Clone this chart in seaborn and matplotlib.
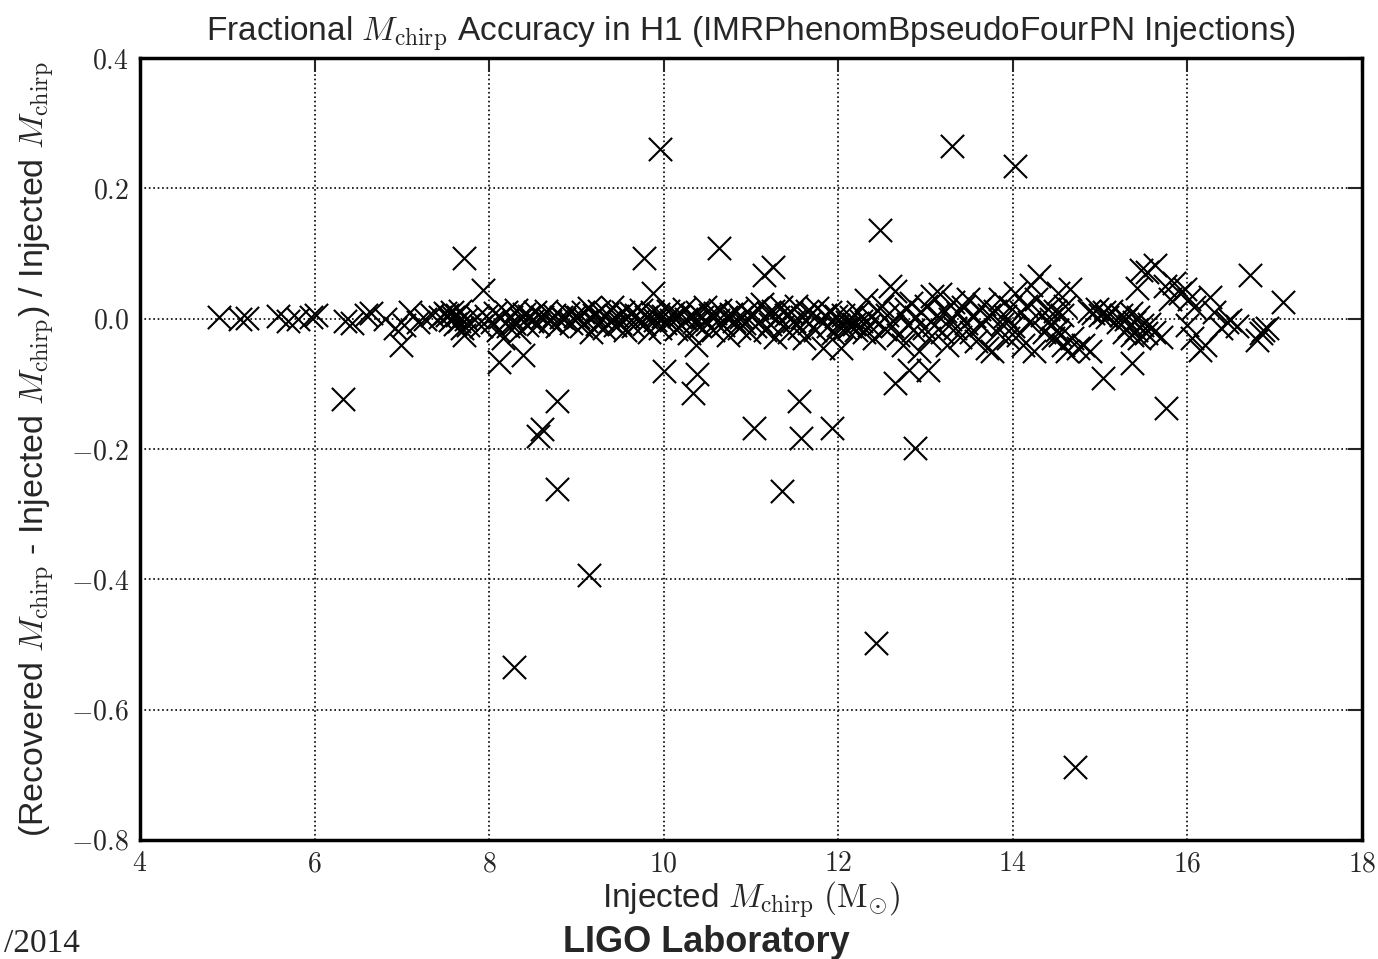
import numpy as np
import pandas as pd
import matplotlib
matplotlib.use("Agg")
import matplotlib.pyplot as plt
import seaborn as sns

# --- Data (injected Mchirp, fractional error) ---
# sparse low-mass end
inj_low = [4.91, 5.15, 5.23, 5.58, 5.70, 5.81, 5.96, 6.02, 6.35, 6.43, 6.59, 6.65,
           6.81, 6.92, 6.99, 7.02, 7.09, 7.18, 7.26, 7.35, 7.44, 7.49,
           7.52, 7.55, 7.57, 7.59, 7.61, 7.63, 7.65, 7.67, 7.69, 7.71, 7.73, 7.76,
           7.86, 7.91, 7.96]
err_low = [0.003, 0.0, 0.001, 0.004, -0.004, 0.0, 0.003, 0.005, -0.003, -0.006, 0.006, 0.008,
           0.0, -0.015, -0.04, -0.01, 0.01, -0.005, 0.0, 0.005, 0.003, 0.008,
           0.006, -0.002, 0.01, 0.003, -0.008, 0.005, -0.004, 0.012, -0.015, -0.025, 0.0, -0.01,
           0.002, -0.012, 0.004]

# dense band 8 - 12
inj_mid = [8.03, 8.07, 8.10, 8.13, 8.16, 8.19, 8.22, 8.25, 8.28, 8.31, 8.34, 8.37, 8.40, 8.43,
           8.46, 8.49, 8.52, 8.56, 8.60, 8.65, 8.70, 8.74, 8.78, 8.82, 8.86, 8.90, 8.94, 8.98,
           9.02, 9.05, 9.08, 9.11, 9.14, 9.17, 9.20, 9.23, 9.26, 9.29, 9.32, 9.35, 9.38, 9.41,
           9.44, 9.47, 9.50, 9.53, 9.56, 9.59, 9.62, 9.65, 9.68, 9.71, 9.74, 9.77, 9.80, 9.83,
           9.86, 9.88, 9.90, 9.93, 9.96, 9.99,
           10.02, 10.05, 10.08, 10.11, 10.14, 10.17, 10.20, 10.23, 10.26, 10.29, 10.32, 10.35,
           10.37, 10.38, 10.41, 10.44, 10.47, 10.50, 10.53, 10.56, 10.59, 10.62, 10.65, 10.68,
           10.71, 10.74, 10.77, 10.80, 10.83, 10.86, 10.89, 10.92, 10.95, 10.98,
           11.01, 11.04, 11.07, 11.10, 11.13, 11.16, 11.19, 11.22, 11.25, 11.28, 11.31, 11.34,
           11.37, 11.40, 11.43, 11.46, 11.49, 11.52, 11.55, 11.58, 11.61, 11.64, 11.67, 11.70,
           11.73, 11.76, 11.79, 11.82, 11.85, 11.88, 11.91, 11.94, 11.97]
err_mid = [-0.005, 0.008, -0.018, 0.002, -0.03, 0.01, -0.012, 0.003, -0.006, 0.014, -0.02, 0.0, 0.007, -0.01,
           0.004, -0.003, 0.01, -0.008, 0.002, 0.012, -0.004, 0.006, -0.012, 0.003, 0.0, 0.008, -0.006, 0.004,
           0.002, -0.012, 0.01, -0.004, 0.016, -0.02, 0.005, -0.008, 0.012, 0.0, -0.015, 0.007, -0.003, 0.018,
           -0.01, 0.004, -0.006, 0.011, -0.018, 0.002, 0.009, -0.012, 0.006, -0.004, 0.014, -0.008, 0.003, -0.02,
           0.01, 0.04, -0.002, 0.007, -0.014, 0.004,
           -0.006, 0.012, -0.002, 0.008, -0.016, 0.004, -0.01, 0.015, 0.0, -0.022, 0.006, -0.005,
           -0.04, 0.01, -0.012, 0.003, 0.018, -0.008, 0.005, -0.018, 0.009, -0.002, 0.014, -0.01,
           0.002, -0.025, 0.007, -0.004, 0.012, -0.014, 0.003, -0.007, 0.01, -0.02,
           0.004, -0.012, 0.016, -0.004, 0.022, -0.018, 0.008, -0.008, 0.012, -0.028, 0.002, 0.018,
           -0.012, 0.006, -0.02, 0.01, -0.004, 0.02, -0.014, 0.003, -0.03, 0.012, -0.006, 0.008,
           -0.018, 0.016, -0.002, -0.045, 0.006, -0.012, 0.01, -0.022, 0.004]

# wider band 12 - 17
inj_high = [12.00, 12.03, 12.05, 12.08, 12.10, 12.13, 12.15, 12.18, 12.20, 12.23, 12.26, 12.29,
            12.32, 12.35, 12.38, 12.41, 12.44, 12.47, 12.50, 12.53, 12.56, 12.59, 12.62, 12.65,
            12.68, 12.71, 12.74, 12.77, 12.80, 12.83, 12.86, 12.89, 12.92, 12.95, 12.98,
            13.01, 13.04, 13.07, 13.10, 13.13, 13.16, 13.19, 13.22, 13.25, 13.28, 13.31, 13.34,
            13.37, 13.40, 13.43, 13.46, 13.49, 13.52, 13.55, 13.58, 13.61, 13.64, 13.67, 13.70,
            13.73, 13.76, 13.79, 13.82, 13.85, 13.88, 13.91, 13.94, 13.97,
            14.00, 14.03, 14.06, 14.09, 14.12, 14.15, 14.18, 14.21, 14.24, 14.27, 14.30, 14.33,
            14.36, 14.40, 14.42, 14.44, 14.46, 14.48, 14.50, 14.52, 14.54, 14.56, 14.58, 14.60,
            14.62, 14.65, 14.68, 14.75, 14.80, 14.88,
            14.87, 14.92, 14.96, 15.00, 15.04, 15.08, 15.12,
            15.20, 15.24, 15.27, 15.30, 15.33, 15.35, 15.37, 15.39, 15.41, 15.43, 15.45, 15.48,
            15.52, 15.56, 15.62, 15.70, 15.42, 15.47, 15.54, 15.63,
            15.74, 15.80, 15.85, 15.92, 15.97, 16.02, 16.08, 16.00, 16.05,
            16.14, 16.20, 16.26, 16.30, 16.38, 16.45, 16.49, 16.57, 16.72, 16.80, 16.84, 16.87,
            16.91, 17.09]
err_high = [-0.01, -0.045, 0.005, -0.015, -0.005, -0.012, 0.002, -0.008, -0.018, 0.01, -0.004, -0.02,
            0.028, -0.01, 0.003, -0.03, 0.014, -0.006, 0.02, -0.016, 0.006, 0.05, -0.012, 0.042,
            -0.025, 0.008, -0.04, 0.015, -0.008, 0.024, -0.018, 0.002, -0.05, 0.01, -0.014,
            0.02, -0.03, 0.035, -0.01, 0.006, 0.038, -0.02, 0.012, -0.04, 0.0, 0.025, -0.015,
            0.008, -0.028, 0.018, -0.006, 0.03, -0.02, 0.004, -0.035, 0.015, -0.01, 0.022, -0.045,
            0.006, -0.05, 0.012, -0.02, 0.03, -0.008, 0.004, -0.03, 0.018,
            -0.012, 0.04, -0.025, 0.01, -0.04, 0.02, -0.005, 0.052, -0.05, 0.03, 0.065, 0.005,
            -0.02, 0.015, -0.01, 0.0, -0.03, 0.012, -0.018, 0.04, -0.025, 0.005, -0.04, 0.02,
            -0.05, 0.045, -0.03, -0.045, -0.04, -0.05,
            0.012, 0.008, 0.015, 0.005, 0.01, 0.002, 0.012,
            -0.005, 0.005, -0.02, 0.0, -0.012, 0.008, -0.025, -0.005, -0.018, 0.002, -0.03, -0.01,
            -0.022, -0.008, -0.02, -0.028, 0.047, 0.075, 0.072, 0.082,
            0.05, 0.03, 0.055, 0.04, 0.045, 0.03, 0.018, -0.01, -0.03,
            -0.048, -0.04, 0.034, 0.01, -0.015, -0.005, -0.002, -0.012, 0.067, -0.033, -0.022, -0.017,
            -0.014, 0.026]

# outliers
inj_out = [9.96, 13.30, 14.03, 12.48, 7.71, 9.77, 10.63, 7.93, 11.25, 11.15,
           6.33, 8.11, 8.39, 8.60, 8.56, 8.78, 8.78, 9.14, 8.28, 10.00, 10.34, 10.38,
           11.03, 11.35, 11.55, 11.57, 11.93, 12.43, 12.65, 12.88, 12.81, 13.03, 14.71,
           15.03, 15.36, 15.75]
err_out = [0.26, 0.265, 0.234, 0.136, 0.093, 0.093, 0.108, 0.044, 0.079, 0.067,
           -0.123, -0.066, -0.055, -0.17, -0.18, -0.126, -0.262, -0.394, -0.535, -0.08, -0.114, -0.085,
           -0.168, -0.265, -0.126, -0.183, -0.168, -0.497, -0.099, -0.199, -0.079, -0.079, -0.688,
           -0.091, -0.068, -0.137]

x_ticks = [4, 6, 8, 10, 12, 14, 16, 18]
y_ticks = [-0.8, -0.6, -0.4, -0.2, 0.0, 0.2, 0.4]

df = pd.DataFrame({
    'inj': inj_low + inj_mid + inj_high + inj_out,
    'err': err_low + err_mid + err_high + err_out,
})

# --- Plotting ---
sns.set_style("white")
plt.rcParams['font.family'] = ['Liberation Sans Narrow', 'Liberation Sans', 'DejaVu Sans']
plt.rcParams['mathtext.fontset'] = 'cm'

fig = plt.figure(figsize=(13.78, 9.59), dpi=100)
ax = fig.add_axes([0.1016, 0.1241, 0.8868, 0.8154])

sns.scatterplot(data=df, x='inj', y='err', marker='x', color='black',
                s=280, linewidth=1.5, ax=ax, zorder=3, legend=False)

ax.set_xlim(4, 18)
ax.set_ylim(-0.8, 0.4)
ax.set_xticks(x_ticks)
ax.set_yticks(y_ticks)
ax.set_xticklabels([f'${t}$' for t in x_ticks])
ax.set_yticklabels([f'${t:.1f}$' for t in y_ticks])
ax.tick_params(direction='in', length=10, width=1.5, labelsize=20,
               top=True, right=True, pad=8)

ax.grid(True, linestyle=':', color='black', linewidth=1.2)
ax.set_axisbelow(True)
for sp in ax.spines.values():
    sp.set_linewidth(2.5)
    sp.set_color('black')

ax.set_title(r'Fractional $M_{\rm chirp}$ Accuracy in H1 (IMRPhenomBpseudoFourPN Injections)',
             fontsize=24, pad=12)
ax.set_xlabel(r'Injected $M_{\rm chirp}$ $(\mathrm{M}_{\odot})$', fontsize=24, labelpad=2)
ax.set_ylabel(r'(Recovered $M_{\rm chirp}$ - Injected $M_{\rm chirp}$) / Injected $M_{\rm chirp}$',
              fontsize=24.5, labelpad=10)

fig.text(80 / 1378, 1 - 952 / 959, '/2014', ha='right', va='baseline',
         fontsize=24, family='Liberation Serif')
fig.text(706 / 1378, 1 - 952 / 959, 'LIGO Laboratory', ha='center', va='baseline',
         fontsize=26, weight='bold', family=['Liberation Sans', 'DejaVu Sans'])

fig.savefig('out.png', dpi=100)
